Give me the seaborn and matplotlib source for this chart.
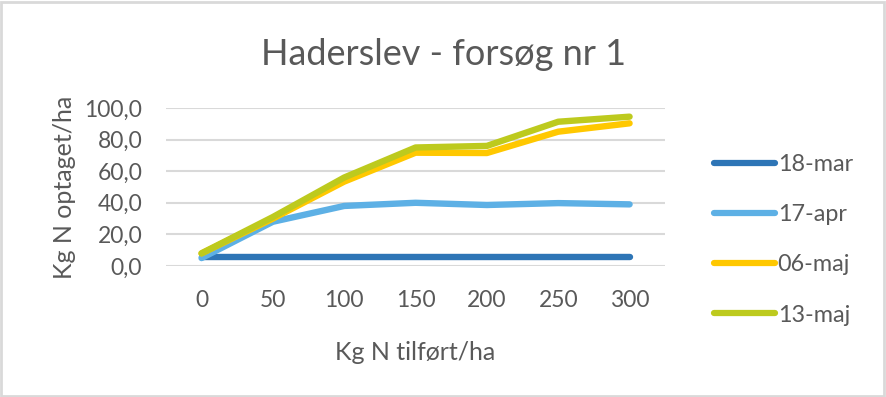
import pandas as pd
import numpy as np
import matplotlib.pyplot as plt
import seaborn as sns
from matplotlib.patches import Rectangle
from matplotlib.ticker import FuncFormatter

# Data
doses = ['0', '50', '100', '150', '200', '250', '300']
mar18 = [5.5, 5.5, 5.5, 5.5, 5.5, 5.5, 5.5]
apr17 = [5.0, 28.0, 38.0, 40.0, 38.6, 39.8, 39.0]
maj06 = [8.0, 30.0, 53.4, 71.7, 71.5, 85.0, 90.3]
maj13 = [8.0, 31.0, 56.0, 75.0, 76.0, 91.3, 94.5]
series_names = ['18-mar', '17-apr', '06-maj', '13-maj']
colors = ['#2E75B6', '#5DB0E5', '#FFC800', '#BDCA1E']

df = pd.DataFrame({'dose': doses * 4,
                   'value': mar18 + apr17 + maj06 + maj13,
                   'serie': np.repeat(series_names, len(doses))})

sns.set_style('white')
plt.rcParams['font.family'] = ['Lato', 'DejaVu Sans']
text_col = '#595959'

fig = plt.figure(figsize=(8.87, 3.97), dpi=100)
ax = fig.add_axes([0.187, 0.330, 0.563, 0.398])

sns.lineplot(data=df, x='dose', y='value', hue='serie', hue_order=series_names,
             palette=colors, linewidth=4.6, sort=False, ax=ax, legend=True,
             solid_capstyle='round')
for line in ax.get_lines():
    line.set_clip_on(False)

ax.set_xlim(-0.5, 6.5)
ax.set_ylim(0, 100)
ax.set_yticks(np.arange(0, 101, 20))
ax.yaxis.set_major_formatter(FuncFormatter(lambda v, p: f'{v:.1f}'.replace('.', ',')))
ax.grid(axis='y', color='#D9D9D9', linewidth=1.5)
ax.set_axisbelow(True)
for s in ax.spines.values():
    s.set_visible(False)
ax.tick_params(axis='both', length=0, labelsize=16.5, labelcolor=text_col)
ax.tick_params(axis='x', pad=17)
ax.tick_params(axis='y', pad=17)

ax.set_xlabel('Kg N tilført/ha', fontsize=18, color=text_col, labelpad=22)
ax.set_ylabel('Kg N optaget/ha', fontsize=18, color=text_col, labelpad=6)
fig.text(0.5, 0.862, 'Haderslev - forsøg nr 1', ha='center', va='center',
         fontsize=26, color=text_col)

leg = ax.legend(loc='upper left', bbox_to_anchor=(0.805, 0.612), bbox_transform=fig.transFigure,
                frameon=False, fontsize=16.8, labelspacing=1.25, handlelength=2.6,
                handletextpad=0.13, borderaxespad=0, borderpad=0, labelcolor=text_col)
for h in leg.get_lines():
    h.set_linewidth(4.5)

fig.patches.append(Rectangle((0.001, 0.002), 0.996, 0.994, transform=fig.transFigure,
                             fill=False, edgecolor='#D9D9D9', linewidth=2))

plt.savefig('out.png', dpi=100)
